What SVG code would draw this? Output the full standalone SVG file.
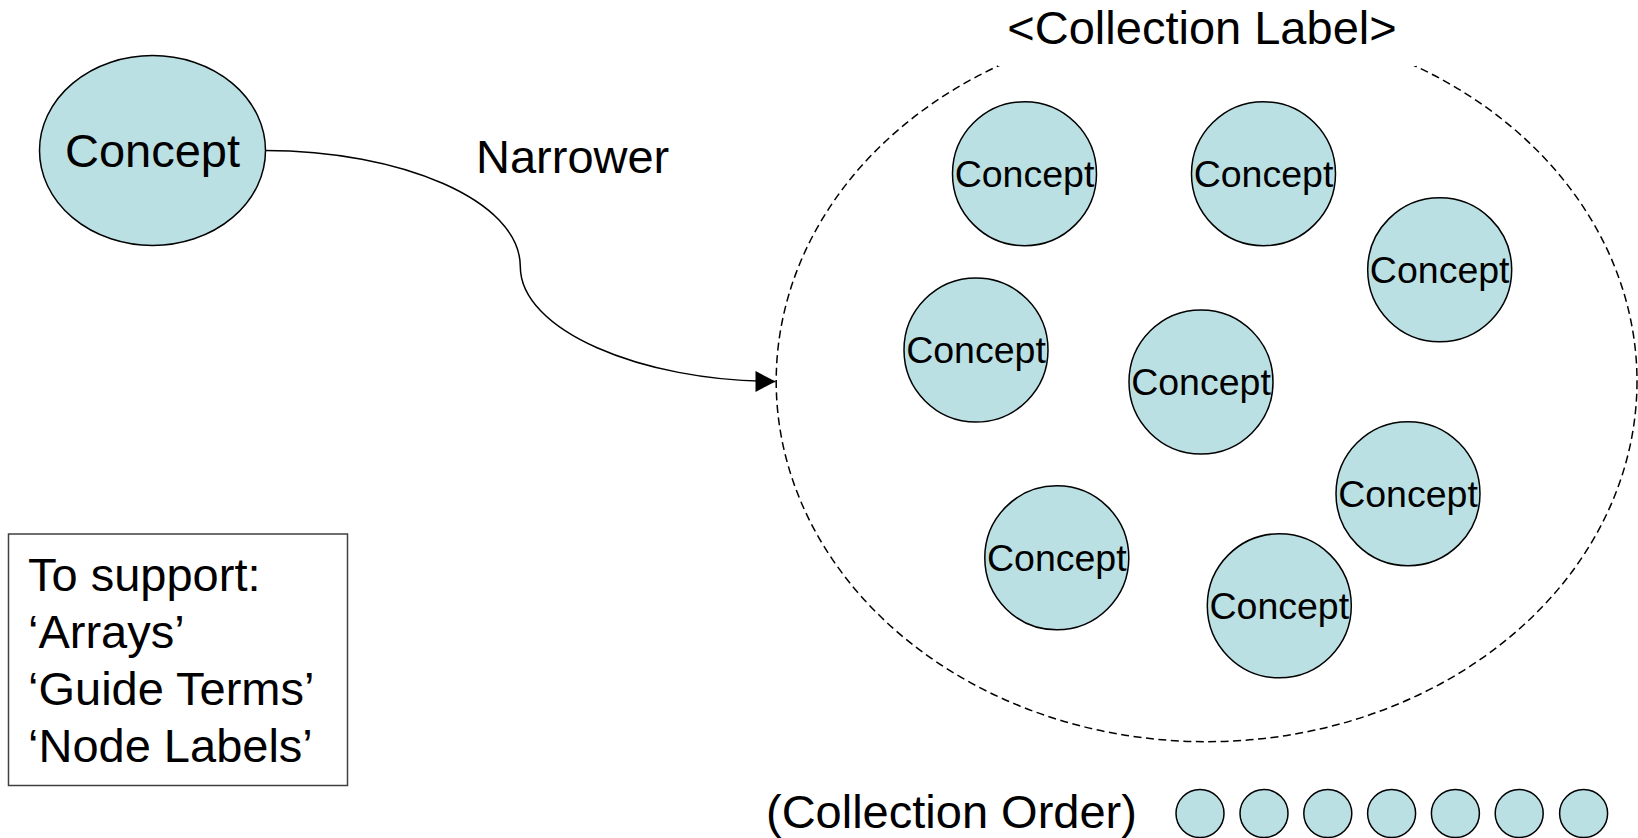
<svg xmlns="http://www.w3.org/2000/svg" width="1638" height="838" viewBox="0 0 1638 838">
  <style>
    .node { fill: #BBE0E3; stroke: #000; stroke-width: 1.5; }
    .lbl { font-family: "Liberation Sans", Arial, sans-serif; fill: #000; }
    .big { font-size: 47px; }
    .small { font-size: 37.5px; text-anchor: middle; }
    .edge { fill: none; stroke: #000; stroke-width: 1.5; }
    .coll { fill: none; stroke: #000; stroke-width: 1.5; stroke-dasharray: 8 4.5; }
  </style>
  <defs>
    <marker id="arrow" markerUnits="userSpaceOnUse" markerWidth="21" markerHeight="21" refX="20" refY="10.5" orient="auto">
      <path d="M0,0 L20,10.5 L0,21 Z" fill="#000"/>
    </marker>
  </defs>
  <rect width="1638" height="838" fill="#fff"/>

  <g id="collection">
    <ellipse class="coll" cx="1206.6" cy="381.3" rx="430.4" ry="360.4"/>
    <rect x="998" y="0" width="418" height="66" fill="#fff"/>
    <text class="lbl big" x="1202" y="44" text-anchor="middle">&lt;Collection Label&gt;</text>
  </g>

  <g id="connectors">
    <path class="edge" d="M265,150.5 C400,150.5 520,200 520.3,266.4 C520.3,330 640,381.3 775.5,381.5" marker-end="url(#arrow)"/>
  </g>

  <g id="concept-main">
    <ellipse class="node" cx="152.5" cy="150.5" rx="113" ry="95"/>
    <text class="lbl big" x="152.5" y="167" text-anchor="middle">Concept</text>
  </g>

  <text class="lbl big" x="476" y="173">Narrower</text>

  <g id="c1"><circle class="node" cx="1024.5" cy="173.7" r="72"/><text class="lbl small" x="1024.5" y="186.7">Concept</text></g>
  <g id="c2"><circle class="node" cx="1263.5" cy="173.7" r="72"/><text class="lbl small" x="1263.5" y="186.7">Concept</text></g>
  <g id="c3"><circle class="node" cx="1439.7" cy="269.8" r="72"/><text class="lbl small" x="1439.7" y="282.8">Concept</text></g>
  <g id="c4"><circle class="node" cx="976" cy="350" r="72"/><text class="lbl small" x="976" y="363">Concept</text></g>
  <g id="c5"><circle class="node" cx="1201" cy="382" r="72"/><text class="lbl small" x="1201" y="395">Concept</text></g>
  <g id="c6"><circle class="node" cx="1408" cy="493.7" r="72"/><text class="lbl small" x="1408" y="506.7">Concept</text></g>
  <g id="c7"><circle class="node" cx="1056.8" cy="557.8" r="72"/><text class="lbl small" x="1056.8" y="570.8">Concept</text></g>
  <g id="c8"><circle class="node" cx="1279.3" cy="605.8" r="72"/><text class="lbl small" x="1279.3" y="618.8">Concept</text></g>

  <g id="order">
    <text class="lbl big" x="766" y="828">(Collection Order)</text>
    <circle class="node" cx="1200" cy="813.5" r="24"/>
    <circle class="node" cx="1264" cy="813.5" r="24"/>
    <circle class="node" cx="1327.8" cy="813.5" r="24"/>
    <circle class="node" cx="1391.6" cy="813.5" r="24"/>
    <circle class="node" cx="1455.4" cy="813.5" r="24"/>
    <circle class="node" cx="1519.2" cy="813.5" r="24"/>
    <circle class="node" cx="1583.6" cy="813.5" r="24"/>
  </g>

  <g id="note">
    <rect x="8.5" y="534" width="339" height="251.5" fill="#fff" stroke="#404040" stroke-width="1.5"/>
    <text class="lbl big" x="28" y="591">To support:</text>
    <text class="lbl big" x="28" y="648">‘Arrays’</text>
    <text class="lbl big" x="28" y="705">‘Guide Terms’</text>
    <text class="lbl big" x="28" y="762">‘Node Labels’</text>
  </g>
</svg>
